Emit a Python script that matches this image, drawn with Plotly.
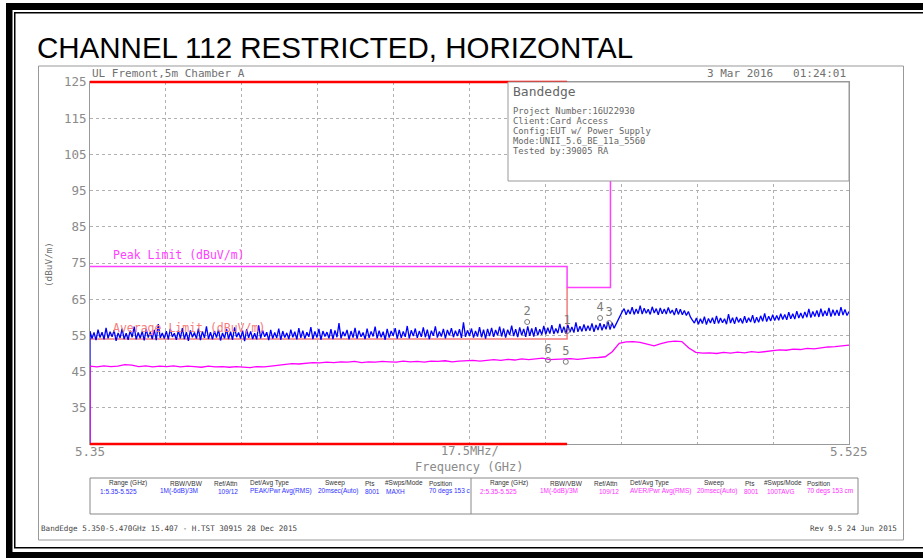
import numpy as np
import plotly.graph_objects as go

W, H = 923, 559

# ---------------- data ----------------
f_start, f_stop = 5.35, 5.525           # GHz
y_bottom, y_top = 25, 125               # dBuV/m
y_ticks = [25, 35, 45, 55, 65, 75, 85, 95, 105, 115, 125]
y_ticktext = ["", "35", "45", "55", "65", "75", "85", "95", "105", "115", "125"]

# peak (MAXH) trace (380 sweep points)
peak_level = [
    25,
    56.2, 54.1, 55.8, 53.7, 56.6, 54.4, 55.9, 53.9, 57.1, 54.2, 56.0, 54.6, 56.4, 53.5, 55.7, 54.3, 56.9, 54.0, 55.6, 53.8,
    56.3, 54.5, 57.4, 53.9, 55.8, 54.2, 56.1, 53.6, 56.7, 54.4, 55.9, 54.0, 56.5, 53.7, 58.1, 54.3, 55.7, 54.1, 56.2, 53.9,
    56.8, 54.6, 55.6, 53.8, 56.3, 54.2, 57.0, 54.0, 55.9, 53.5, 56.4, 54.5, 55.8, 54.1, 56.9, 53.7, 56.1, 54.3, 57.5, 54.0,
    55.9, 53.9, 56.2, 54.4, 56.6, 53.6, 55.7, 54.2, 56.8, 54.0, 56.0, 53.8, 57.2, 54.5, 55.8, 54.1, 56.3, 53.4, 56.7, 54.3,
    56.1, 54.0, 55.6, 53.9, 57.8, 54.2, 56.4, 54.6, 55.9, 53.7, 56.5, 54.1, 55.8, 54.3, 56.9, 53.8, 56.2, 54.4, 55.7, 54.0,
    56.6, 54.5, 56.0, 53.9, 57.0, 54.3, 56.3, 54.1, 55.9, 54.6, 57.3, 54.0, 56.1, 54.4, 56.8, 53.8, 56.2, 54.7, 55.9, 54.2,
    56.7, 54.0, 56.4, 54.5, 58.4, 54.2, 56.0, 54.8, 56.5, 53.9, 56.2, 54.4, 57.1, 54.1, 56.3, 54.6, 55.8, 54.0, 56.9, 54.3,
    56.1, 54.7, 57.4, 54.2, 56.3, 54.5, 56.0, 53.8, 56.8, 54.4, 56.2, 54.9, 57.0, 54.1, 56.5, 54.3, 56.1, 54.6, 57.6, 54.2,
    56.4, 54.8, 56.9, 54.3, 56.2, 54.6, 57.2, 54.5, 56.6, 54.0, 56.3, 54.9, 57.5, 54.4, 56.1, 54.7, 56.8, 54.2, 56.5, 55.0,
    57.0, 54.5, 56.3, 54.8, 56.7, 54.3, 58.6, 54.6, 56.4, 54.9, 56.9, 54.4, 56.2, 54.7, 57.3, 54.5, 56.6, 54.1, 56.8, 54.8,
    57.1, 54.6, 56.5, 55.0, 57.4, 54.7, 56.9, 54.4, 56.6, 55.1, 57.7, 54.8, 56.7, 54.5, 57.2, 55.0, 56.8, 54.6, 57.5, 54.9,
    56.9, 54.7, 57.3, 55.0, 56.7,
    55.2, 57.6, 55.3, 57.1, 55.5, 57.8, 55.4, 56.9, 55.6, 58.2,
    55.7, 57.4, 55.5, 57.9, 55.9, 57.3, 55.8, 58.6, 56.0, 57.5,
    56.1, 58.0, 56.2, 57.7, 56.3, 58.3, 56.0, 57.9, 56.5, 58.4,
    56.4, 58.1, 56.7, 58.8, 56.6, 58.5, 57.0,
    58.2, 59.6, 60.6, 61.5,
    62.4, 60.7, 62.1, 60.9, 62.8, 60.8, 62.3, 61.0, 63.2, 60.9,
    62.5, 61.1, 62.2, 60.8, 62.9, 61.2, 62.4, 60.7, 62.6, 61.0,
    62.3, 60.9, 62.7, 61.1, 62.0, 60.6, 62.5, 60.8, 62.2, 60.7,
    61.9, 60.5, 61.6,
    60.1, 59.2, 58.4,
    59.8, 58.1, 59.6, 58.3, 60.2, 58.0, 59.7, 58.4, 59.9, 58.2,
    60.4, 58.3, 59.8, 58.5, 59.6, 58.1, 60.9, 58.4, 59.9, 58.2,
    60.1, 58.6, 59.7, 58.3, 60.3, 58.5, 59.9, 58.7, 60.6, 58.4,
    60.0, 58.6, 60.4, 58.9, 61.1, 58.8, 60.3, 59.0, 60.7, 59.1,
    60.5, 59.2, 61.0, 59.4, 60.8, 59.3, 61.4, 59.6, 61.0, 59.5,
    61.7, 59.8, 61.2, 59.7, 61.5, 60.0, 62.3, 59.9, 61.6, 60.2,
    61.9, 60.1, 62.4, 60.3, 61.8, 60.4, 62.6, 60.2, 62.1, 60.5,
    62.0, 60.4, 62.8, 60.6, 62.2, 60.5, 61.6,
]
# first sweep point sits on the left edge (trace rises from the bottom there)
peak_freq = np.concatenate([[f_start], np.linspace(f_start, f_stop, len(peak_level) - 1)])

# average (100TAVG) trace
avg_level = [
    25,
    46.5, 46.3, 46.6, 46.4, 46.5, 46.9, 46.8, 46.4, 46.6, 46.3,
    46.5, 46.4, 46.6, 46.3, 46.5, 46.4, 46.2, 46.5, 46.3, 46.4,
    46.2, 46.4, 46.3, 46.1, 46.4, 46.3,
    46.5, 46.8, 47.0, 47.2, 47.1, 47.4, 47.5, 47.4, 47.6,
    47.5, 47.7, 47.6, 47.8, 47.5, 47.7, 47.6, 47.8, 47.7, 47.6,
    47.9, 47.7, 47.8, 47.6, 47.9, 47.8, 48.0, 47.7, 47.9, 48.0,
    48.1, 47.9, 48.2, 48.3, 48.1, 48.4, 48.2, 48.5, 48.3, 48.4,
    48.7, 48.3, 48.4, 48.5, 48.6, 48.4, 48.7, 48.8, 48.9, 49.1,
    50.5, 52.8, 53.2,
    53.3, 53.1, 52.6, 52.1, 52.7, 53.2, 53.4, 53.3,
    51.5, 50.3, 50.1,
    50.2, 50.0, 50.3, 50.1, 50.4, 50.2, 50.5, 50.3, 50.6, 50.9,
    51.0, 50.9, 51.2, 51.1, 51.4, 51.3, 51.6, 51.8, 51.9, 52.1, 52.3,
]
avg_freq = np.concatenate([[f_start], np.linspace(f_start, f_stop, len(avg_level) - 1)])

# limit lines
peak_limit_freq = [5.35, 5.46, 5.46, 5.47, 5.47, 5.525]
peak_limit_level = [74, 74, 68.2, 68.2, 122.2, 122.2]
avg_limit_freq = [5.35, 5.46, 5.46]
avg_limit_level = [54, 54, 68.2]
restricted_band = [5.35, 5.46]

# markers
marker_labels = ["1", "2", "3", "4", "5", "6"]
marker_freq = [5.4600, 5.4508, 5.4697, 5.4676, 5.4597, 5.4556]
marker_level = [56.2, 58.7, 58.4, 59.8, 47.7, 48.2]

info_lines = ["Project Number:16U22930", "Client:Card Access",
              "Config:EUT w/ Power Supply", "Mode:UNII_5.6_BE_11a_5560",
              "Tested by:39005 RA"]

table_headers = ["Range (GHz)", "RBW/VBW", "Ref/Attn", "Det/Avg Type",
                 "Sweep", "Pts", "#Swps/Mode", "Position"]
table_row1 = ["1:5.35-5.525", "1M(-6dB)/3M", "109/12", "PEAK/Pwr Avg(RMS)",
              "20msec(Auto)", "8001", "MAXH", "70 degs 153 c"]
table_row2 = ["2:5.35-5.525", "1M(-6dB)/3M", "109/12", "AVER/Pwr Avg(RMS)",
              "20msec(Auto)", "8001", "100TAVG", "70 degs 153 cm"]

# ---------------- layout helpers ----------------
def px(x):
    return x / W

def py(y):
    return 1 - y / H

PL, PR, PT, PB = 90, 849, 82, 444
MONO = "DejaVu Sans Mono"
GRAY = "#8a8a8a"

fig = go.Figure()

fig.add_trace(go.Scatter(x=avg_limit_freq, y=avg_limit_level, mode="lines",
                         line=dict(color="#f47c7c", width=1.5), hoverinfo="skip"))
fig.add_trace(go.Scatter(x=peak_limit_freq, y=peak_limit_level, mode="lines",
                         line=dict(color="#ff40ff", width=1.5), hoverinfo="skip"))
fig.add_trace(go.Scatter(x=peak_freq, y=peak_level, mode="lines",
                         line=dict(color="#0000ff", width=1.3)))
fig.add_trace(go.Scatter(x=avg_freq, y=avg_level, mode="lines",
                         line=dict(color="#ff00ff", width=1.3)))
fig.add_trace(go.Scatter(x=marker_freq, y=marker_level, mode="markers+text",
                         text=marker_labels, textposition="top center",
                         textfont=dict(family=MONO, size=12, color="#7a7a7a"),
                         marker=dict(symbol="circle-open", size=5,
                                     color="#7a7a7a", line=dict(width=1))))

shapes = []
# restricted band red bars (top and bottom of graticule)
for yv in (py(PT), py(PB)):
    shapes.append(dict(type="line", xref="x", yref="paper",
                       x0=restricted_band[0], x1=restricted_band[1], y0=yv, y1=yv,
                       line=dict(color="#ff0000", width=2.5), layer="above"))
# info box (opaque, hides the upper part of the limit line)
shapes.append(dict(type="rect", xref="paper", yref="paper",
                   x0=px(508), x1=px(849), y0=py(181), y1=py(82),
                   fillcolor="white", line=dict(color="#999999", width=1), layer="above"))
# inner gray frame
shapes.append(dict(type="rect", xref="paper", yref="paper",
                   x0=px(38.5), x1=px(903.5), y0=py(540), y1=py(66),
                   line=dict(color="#999999", width=1)))
# bottom settings table
shapes.append(dict(type="rect", xref="paper", yref="paper",
                   x0=px(90), x1=px(858), y0=py(514), y1=py(478),
                   line=dict(color="#888888", width=1)))
shapes.append(dict(type="line", xref="paper", yref="paper",
                   x0=px(471), x1=px(471), y0=py(514), y1=py(478),
                   line=dict(color="#888888", width=1)))
# outer black border
def blk_rect(x0, x1, y0, y1):
    shapes.append(dict(type="rect", xref="paper", yref="paper",
                       x0=px(x0), x1=px(x1), y0=py(y1), y1=py(y0),
                       fillcolor="black", line=dict(width=0)))
blk_rect(6, 923, 3, 10)
blk_rect(14, 923, 12, 13.5)
blk_rect(6, 12.5, 3, 558)
blk_rect(14, 15.5, 12, 548)
blk_rect(14, 923, 547, 548.5)
blk_rect(6, 923, 552, 558)

ann = []
def text(x, y, s, size=11, color=GRAY, family=MONO, xanchor="left", angle=0):
    ann.append(dict(x=px(x), y=py(y), xref="paper", yref="paper", text=s,
                    showarrow=False, xanchor=xanchor, yanchor="middle",
                    textangle=angle, font=dict(family=family, size=size, color=color)))

text(35, 47, "CHANNEL 112 RESTRICTED, HORIZONTAL", size=29.5, color="black",
     family="Liberation Sans")
text(90, 74, "UL Fremont,5m Chamber A", size=11, color="#707070")
text(848, 74, "3 Mar 2016   01:24:01", size=11, color="#707070", xanchor="right")
text(511, 92, "Bandedge", size=13, color="#666666")
for i, s in enumerate(info_lines):
    text(511, 111 + i * 10, s, size=8.8, color="#666666")
text(111, 255, "Peak Limit (dBuV/m)", size=11.5, color="#ff40ff")
text(111, 328, "Average Limit (dBuV/m)", size=11.5, color="#f47c7c")
text(48, 265, "(dBuV/m)", size=9.3, color="#707070", xanchor="center", angle=-90)
text(90, 451, "5.35", size=12.5, color=GRAY, xanchor="center")
text(470, 451, "17.5MHz/", size=12, color=GRAY, xanchor="center")
text(849, 451, "5.525", size=12.5, color=GRAY, xanchor="center")
text(469, 467, "Frequency (GHz)", size=12, color=GRAY, xanchor="center")

hdr_l = [107, 168, 212, 248, 323, 363, 383, 427]
val_l = [98, 158, 216, 248, 316, 363, 384, 427]
hdr_r = [488, 548, 592, 628, 702, 743, 762, 805]
val_r = [478, 538, 597, 628, 695, 742, 765, 805]
for i in range(len(table_headers)):
    text(hdr_l[i], 483, table_headers[i], size=6.5, color="#333333", family="Liberation Sans")
    text(val_l[i], 491, table_row1[i], size=6.5, color="#3030ff", family="Liberation Sans")
    text(hdr_r[i], 483, table_headers[i], size=6.5, color="#333333", family="Liberation Sans")
    text(val_r[i], 491, table_row2[i], size=6.5, color="#ff30ff", family="Liberation Sans")

text(39, 528, "BandEdge 5.350-5.470GHz 15.407 - H.TST 30915 28 Dec 2015",
     size=7.6, color="#444444")
text(899, 528, "Rev 9.5 24 Jun 2015", size=7.6, color="#444444", xanchor="right")

fig.update_layout(
    template="none",
    width=W, height=H, margin=dict(l=0, r=0, t=0, b=0, pad=0, autoexpand=False),
    paper_bgcolor="white", plot_bgcolor="white", showlegend=False,
    shapes=shapes, annotations=ann,
    xaxis=dict(domain=[px(PL), px(PR)], range=[f_start, f_stop], automargin=False,
               tick0=f_start, dtick=0.0175, showticklabels=False, ticks="",
               showgrid=True, gridcolor="#b0b0b0", griddash="dot", gridwidth=1,
               showline=True, mirror=True, linecolor="#999999", linewidth=1,
               zeroline=False),
    yaxis=dict(domain=[py(PB), py(PT)], range=[y_bottom, y_top], automargin=False,
               tickmode="array", tickvals=y_ticks, ticktext=y_ticktext,
               tickfont=dict(family=MONO, size=12.5, color=GRAY), ticks="",
               showgrid=True, gridcolor="#b0b0b0", griddash="dot", gridwidth=1,
               showline=True, mirror=True, linecolor="#999999", linewidth=1,
               zeroline=False),
)

fig.write_html("out.html",
               config={"displayModeBar": False},
               post_script="document.body.style.margin='0px';"
                           "document.body.style.overflow='hidden';")
